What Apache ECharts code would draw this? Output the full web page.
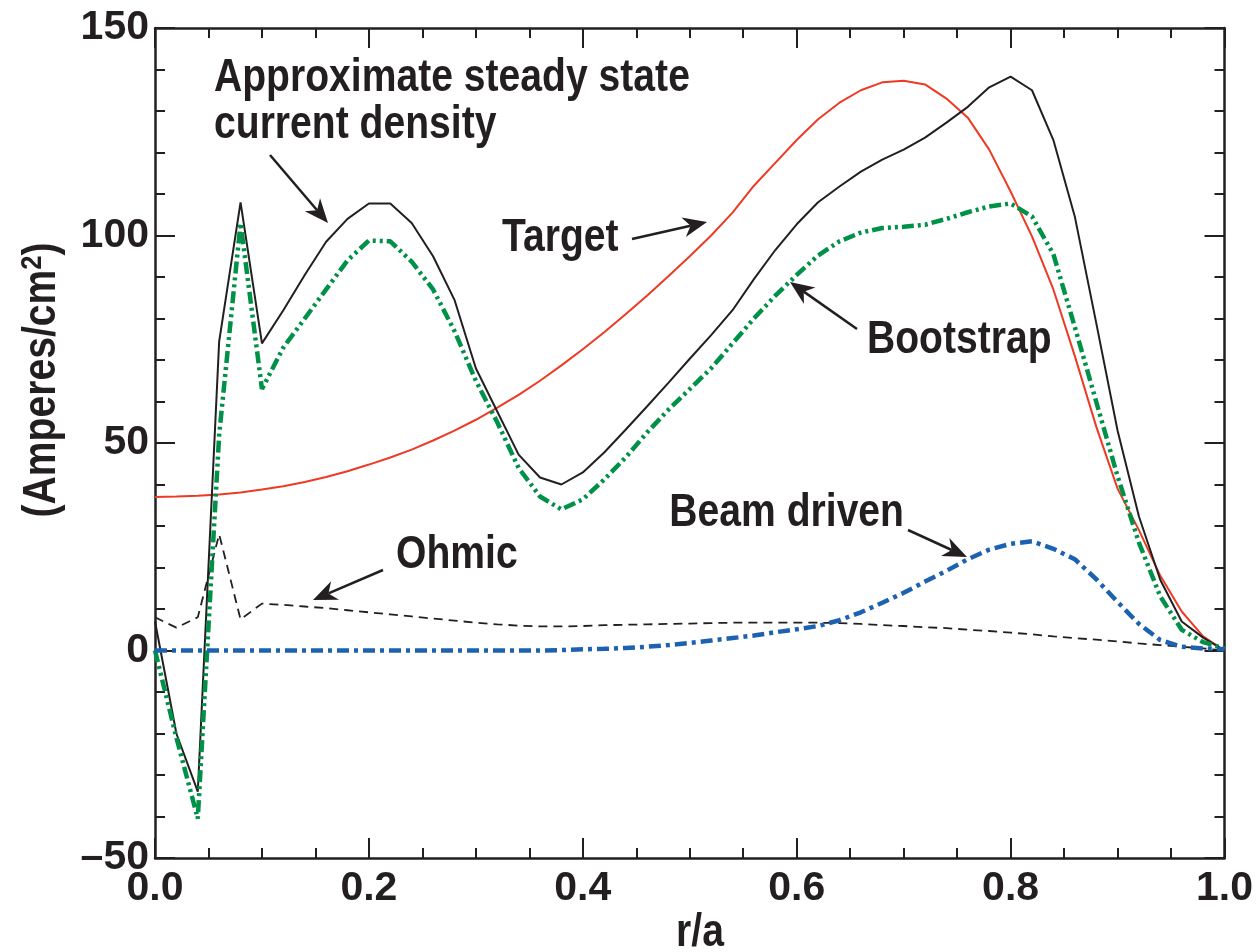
<!DOCTYPE html>
<html>
<head>
<meta charset="utf-8">
<script src="https://cdn.jsdelivr.net/npm/echarts@6/dist/echarts.min.js"></script>
<style>
  html, body { margin: 0; padding: 0; background: #fff; }
  #main { width: 1256px; height: 952px; }
</style>
</head>
<body>
<div id="main"></div>
<script>
// r/a grid
var ra = [0.00, 0.02, 0.04, 0.06, 0.08, 0.10, 0.12, 0.14, 0.16, 0.18,
          0.20, 0.22, 0.24, 0.26, 0.28, 0.30, 0.32, 0.34, 0.36, 0.38,
          0.40, 0.42, 0.44, 0.46, 0.48, 0.50, 0.52, 0.54, 0.56, 0.58,
          0.60, 0.62, 0.64, 0.66, 0.68, 0.70, 0.72, 0.74, 0.76, 0.78,
          0.80, 0.82, 0.84, 0.86, 0.88, 0.90, 0.92, 0.94, 0.96, 0.98, 1.00];

// approximate steady state current density
var steady = [7, -20, -34, 74.5, 108, 74, 82, 90.5, 98.5, 104,
              107.7, 107.7, 103, 95, 84.5, 68, 57.6, 47.2, 41.7, 40,
              42.9, 47.7, 53.2, 58.8, 64.5, 70.3, 76, 82, 89.5, 96.5,
              102.7, 108, 111.8, 115.4, 118.3, 120.7, 123.6, 127.2, 131, 135.7,
              138.3, 135, 123, 104.6, 79, 53, 32.3, 17, 7, 3.1, 0];

var target = [37, 37.1, 37.3, 37.6, 38.1, 38.8, 39.6, 40.6, 41.8, 43.2,
              44.8, 46.5, 48.4, 50.6, 53, 55.6, 58.5, 61.6, 65, 68.7,
              72.6, 76.7, 81, 85.5, 90.2, 95, 100, 105.5, 112, 117.5,
              123, 128, 132, 135, 136.9, 137.3, 136.4, 133, 128.4, 120.7,
              110.6, 99.8, 87, 71, 54, 39, 29, 18, 9.4, 3.4, 0];

var bootstrap = [0, -21, -40.5, 52, 103, 63, 73, 80, 87, 94,
                 98.8, 98.6, 93.7, 87, 77, 65, 55, 44, 37.1, 34,
                 36.4, 41.2, 46.5, 52.5, 58, 63, 68, 74, 80, 85.5,
                 90.5, 95.2, 98.6, 100.7, 101.8, 102.1, 102.6, 104, 105.6, 107,
                 107.7, 104.6, 95.5, 78, 60, 42, 26, 13, 5, 2, 0.5];

var beam = [0, 0, 0, 0, 0, 0, 0, 0, 0, 0,
            0, 0, 0, 0, 0, 0, 0, 0, 0, 0.1,
            0.3, 0.4, 0.6, 0.9, 1.3, 1.8, 2.4, 3, 3.6, 4.4,
            5.1, 5.9, 7.3, 9.2, 11.5, 13.9, 16.6, 19.2, 22, 24.3,
            25.7, 26.3, 24.5, 22, 17.2, 11.7, 6.4, 2.5, 0.9, 0.5, 0.3];

var ohmic = [8, 5.5, 8, 28, 7.5, 11.3, 11, 10.6, 10.2, 9.7,
             9.2, 8.7, 8.2, 7.7, 7.2, 6.7, 6.3, 6, 5.8, 5.8,
             5.9, 6.1, 6.2, 6.3, 6.4, 6.5, 6.6, 6.7, 6.7, 6.7,
             6.7, 6.7, 6.6, 6.4, 6.1, 5.9, 5.6, 5.4, 5, 4.7,
             4.3, 3.9, 3.4, 3, 2.6, 2.2, 1.7, 1.3, 0.9, 0.5, 0];

function pairs(vals) {
    return ra.map(function (x, i) { return [x, vals[i]] })
}

var INK = '#231f20'
var sans = '"Liberation Sans", Arial, sans-serif'
var SQ = 0.85   // squeeze regular bold into a condensed look

function arrow(x1, y1, x2, y2) {
    var a = Math.atan2(y2 - y1, x2 - x1)
    var c = Math.cos(a), s = Math.sin(a)
    var L = 24, W = 10
    var bx = x2 - L * c, by = y2 - L * s
    var nx = x2 - 0.7 * L * c, ny = y2 - 0.7 * L * s
    return [
        { type: 'line', shape: { x1: x1, y1: y1, x2: nx, y2: ny },
          style: { stroke: INK, lineWidth: 2.5 } },
        { type: 'polygon',
          shape: { points: [[x2, y2], [bx + W * s, by - W * c], [nx, ny], [bx - W * s, by + W * c]] },
          style: { fill: INK } }
    ]
}

function label(txt, x, y, align) {
    return { type: 'text', x: x, y: y, scaleX: SQ,
             style: { text: txt, fontFamily: sans, fontWeight: 'bold', fontSize: 46,
                      fill: INK, align: align || 'left', verticalAlign: 'middle' } }
}

var myChart = echarts.init(document.getElementById('main'))

var tickFont = { fontFamily: sans, fontWeight: 'bold', fontSize: 41, color: INK }
var lineSty = { onZero: false, lineStyle: { color: INK, width: 2.5 } }

var xBase = {
    type: 'value', min: 0, max: 1, interval: 0.2,
    axisLine: lineSty,
    axisTick: { show: true, inside: true, length: 20, lineStyle: { color: INK, width: 2 } },
    minorTick: { show: true, splitNumber: 4, length: 10, lineStyle: { color: INK, width: 2 } },
    splitLine: { show: false }
}
var yBase = {
    type: 'value', min: -50, max: 150, interval: 50,
    axisLine: lineSty,
    axisTick: { show: true, inside: true, length: 20, lineStyle: { color: INK, width: 2 } },
    minorTick: { show: true, splitNumber: 5, length: 10, lineStyle: { color: INK, width: 2 } },
    splitLine: { show: false }
}

var graphics = []
graphics.push(label('Approximate steady state', 214, 78))
graphics.push(label('current density', 214, 125))
graphics.push(label('Target', 502, 238))
graphics.push(label('Bootstrap', 867, 340))
graphics.push(label('Ohmic', 396, 555))
graphics.push(label('Beam driven', 904, 513, 'right'))
graphics.push(label('r/a', 700, 933, 'center'))
graphics.push({
    type: 'text', x: 42, y: 380, rotation: Math.PI / 2, scaleX: SQ,
    style: {
        text: '(Amperes/cm{sup|2})', fontFamily: sans, fontWeight: 'bold', fontSize: 46,
        fill: INK, align: 'center', verticalAlign: 'middle',
        rich: { sup: { fontFamily: sans, fontWeight: 'bold', fontSize: 30, fill: INK,
                       verticalAlign: 'bottom', padding: [0, 0, 18, 0] } }
    }
})
graphics = graphics.concat(
    arrow(270, 155, 328, 223),
    arrow(632, 239, 707, 222),
    arrow(857, 329, 790, 282),
    arrow(383, 570, 313, 600),
    arrow(908, 530, 967, 557)
)

var option = {
    animation: false,
    backgroundColor: '#fff',
    grid: { left: 155, right: 30, top: 28, bottom: 94 },
    xAxis: [
        Object.assign({}, xBase, {
            position: 'bottom',
            axisLabel: Object.assign({ margin: 10, formatter: function (v) { return v.toFixed(1) } }, tickFont)
        }),
        Object.assign({}, xBase, { position: 'top', axisLabel: { show: false } })
    ],
    yAxis: [
        Object.assign({}, yBase, {
            position: 'left',
            axisLabel: Object.assign({ margin: 6, formatter: function (v) {
                return v < 0 ? '\u2013' + Math.abs(v) : String(v)
            } }, tickFont)
        }),
        Object.assign({}, yBase, { position: 'right', axisLabel: { show: false } })
    ],
    series: [
        {
            name: 'Target', type: 'line', data: pairs(target), showSymbol: false,
            lineStyle: { color: '#ee3a24', width: 2 }, z: 2
        },
        {
            name: 'Approximate steady state current density', type: 'line', data: pairs(steady),
            showSymbol: false, lineStyle: { color: INK, width: 2 }, z: 3
        },
        {
            name: 'Ohmic', type: 'line', data: pairs(ohmic), showSymbol: false,
            lineStyle: { color: INK, width: 1.8, type: [9, 6] }, z: 3
        },
        {
            name: 'Bootstrap', type: 'line', data: pairs(bootstrap), showSymbol: false,
            lineStyle: { color: '#009148', width: 4.5, type: [12, 4, 3, 4, 3, 4] }, z: 4
        },
        {
            name: 'Beam driven', type: 'line', data: pairs(beam), showSymbol: false,
            lineStyle: { color: '#1c62b0', width: 4.5, type: [12, 5, 4, 5] }, z: 5
        }
    ],
    graphic: graphics
}

myChart.setOption(option)
</script>
</body>
</html>
